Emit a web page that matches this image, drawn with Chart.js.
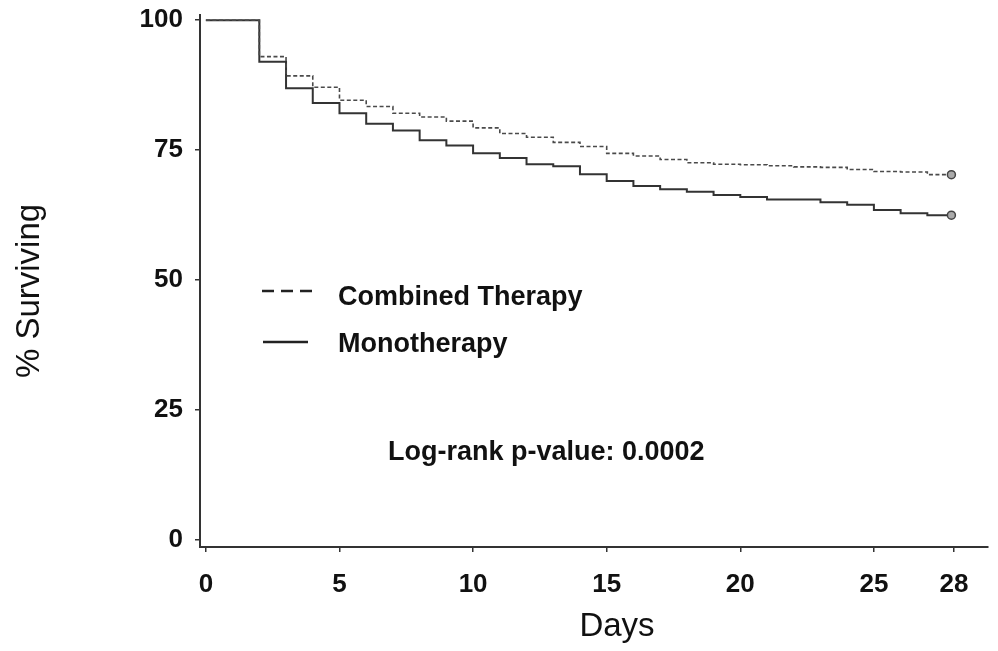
<!DOCTYPE html>
<html>
<head>
<meta charset="utf-8">
<script src="https://cdn.jsdelivr.net/npm/chart.js@4/dist/chart.umd.min.js"></script>
<style>
  html, body { margin: 0; padding: 0; background: #fff; }
  canvas { display: block; }
</style>
</head>
<body>
<canvas id="km" width="998" height="651"></canvas>
<script>
// step times (days) - last entry is the end of follow-up (censor mark)
const days = [0, 2, 3, 4, 5, 6, 7, 8, 9, 10, 11, 12, 13, 14, 15, 16, 17, 18, 19, 20, 21, 22, 23, 24, 25, 26, 27, 27.9];

// % surviving after each step
const combined = [100, 93.0, 89.3, 87.1, 84.6, 83.4, 82.1, 81.4, 80.6, 79.3, 78.2, 77.5, 76.5, 75.7, 74.4, 73.9, 73.2, 72.6, 72.3, 72.2, 72.0, 71.8, 71.7, 71.3, 70.9, 70.8, 70.3, 70.3];
const mono = [100, 92.0, 86.9, 84.1, 82.1, 80.1, 78.8, 76.9, 75.9, 74.4, 73.5, 72.3, 71.9, 70.4, 69.1, 68.1, 67.5, 67.0, 66.4, 66.0, 65.5, 65.5, 65.0, 64.5, 63.5, 62.9, 62.5, 62.5];

const xTicks = [0, 5, 10, 15, 20, 25, 28];
const yTicks = [0, 25, 50, 75, 100];

const seriesNames = ['Combined Therapy', 'Monotherapy'];
const pValueText = 'Log-rank p-value: 0.0002';

const toPoints = (vals) => vals.map((v, i) => ({ x: days[i], y: v }));
// only the last point gets a marker
const endMarker = days.map((d, i) => (i === days.length - 1 ? 4 : 0));

const FONT = '"Liberation Sans", Arial, Helvetica, sans-serif';
const INK = '#111';

// legend, titles and annotation drawn by hand
const annotations = {
  id: 'annotations',
  afterDraw(chart) {
    const ctx = chart.ctx;
    const ds = chart.data.datasets;
    ctx.save();

    // legend samples
    ctx.lineWidth = 2.5;
    ctx.strokeStyle = '#222';
    ctx.setLineDash([12, 7]);
    ctx.beginPath();
    ctx.moveTo(262, 291);
    ctx.lineTo(312, 291);
    ctx.stroke();
    ctx.setLineDash([]);
    ctx.beginPath();
    ctx.moveTo(263, 342);
    ctx.lineTo(308, 342);
    ctx.stroke();

    ctx.fillStyle = INK;
    ctx.font = 'bold 27px ' + FONT;
    ctx.textAlign = 'left';
    ctx.textBaseline = 'alphabetic';
    ctx.fillText(ds[0].label, 338, 305);
    ctx.fillText(ds[1].label, 338, 352);
    ctx.fillText(pValueText, 388, 460);

    // axis titles
    ctx.font = '33px ' + FONT;
    ctx.textAlign = 'center';
    ctx.textBaseline = 'middle';
    ctx.fillText('Days', 617, 627);

    ctx.translate(30, 291);
    ctx.rotate(-Math.PI / 2);
    ctx.fillText('% Surviving', 0, 0);

    ctx.restore();
  }
};

new Chart(document.getElementById('km'), {
  type: 'line',
  data: {
    datasets: [
      {
        label: seriesNames[0],
        data: toPoints(combined),
        stepped: 'before',
        borderColor: '#4a4a4a',
        borderWidth: 1.6,
        borderDash: [4, 2.5],
        pointRadius: endMarker,
        pointBackgroundColor: '#aaa',
        pointBorderColor: '#444',
        pointBorderWidth: 1.5,
        fill: false
      },
      {
        label: seriesNames[1],
        data: toPoints(mono),
        stepped: 'before',
        borderColor: '#333',
        borderWidth: 2,
        pointRadius: endMarker,
        pointBackgroundColor: '#aaa',
        pointBorderColor: '#444',
        pointBorderWidth: 1.5,
        fill: false
      }
    ]
  },
  options: {
    responsive: false,
    animation: false,
    layout: { padding: { top: 15, right: 10, left: 0, bottom: 0 } },
    plugins: {
      legend: { display: false },
      tooltip: { enabled: false }
    },
    scales: {
      x: {
        type: 'linear',
        min: -0.22,
        max: 29.27,
        afterBuildTicks: (scale) => { scale.ticks = xTicks.map(v => ({ value: v })); },
        afterFit: (scale) => {
          scale.height = 104;
          scale.paddingLeft = 0;
          scale.paddingRight = 0;
        },
        grid: { drawOnChartArea: false, drawTicks: true, tickLength: 5, color: '#333', lineWidth: 1.5 },
        border: { color: '#333', width: 2 },
        ticks: { color: INK, font: { family: FONT, size: 26, weight: 'bold' }, padding: 17, maxRotation: 0 }
      },
      y: {
        min: -1.3,
        max: 101,
        afterBuildTicks: (scale) => { scale.ticks = yTicks.map(v => ({ value: v })); },
        afterFit: (scale) => {
          scale.width = 200;
          scale.paddingTop = 0;
          scale.paddingBottom = 0;
        },
        grid: { drawOnChartArea: false, drawTicks: true, tickLength: 5, color: '#333', lineWidth: 1.5 },
        border: { color: '#333', width: 2 },
        ticks: { color: INK, font: { family: FONT, size: 26, weight: 'bold' }, padding: 12 }
      }
    }
  },
  plugins: [annotations]
});
</script>
</body>
</html>
